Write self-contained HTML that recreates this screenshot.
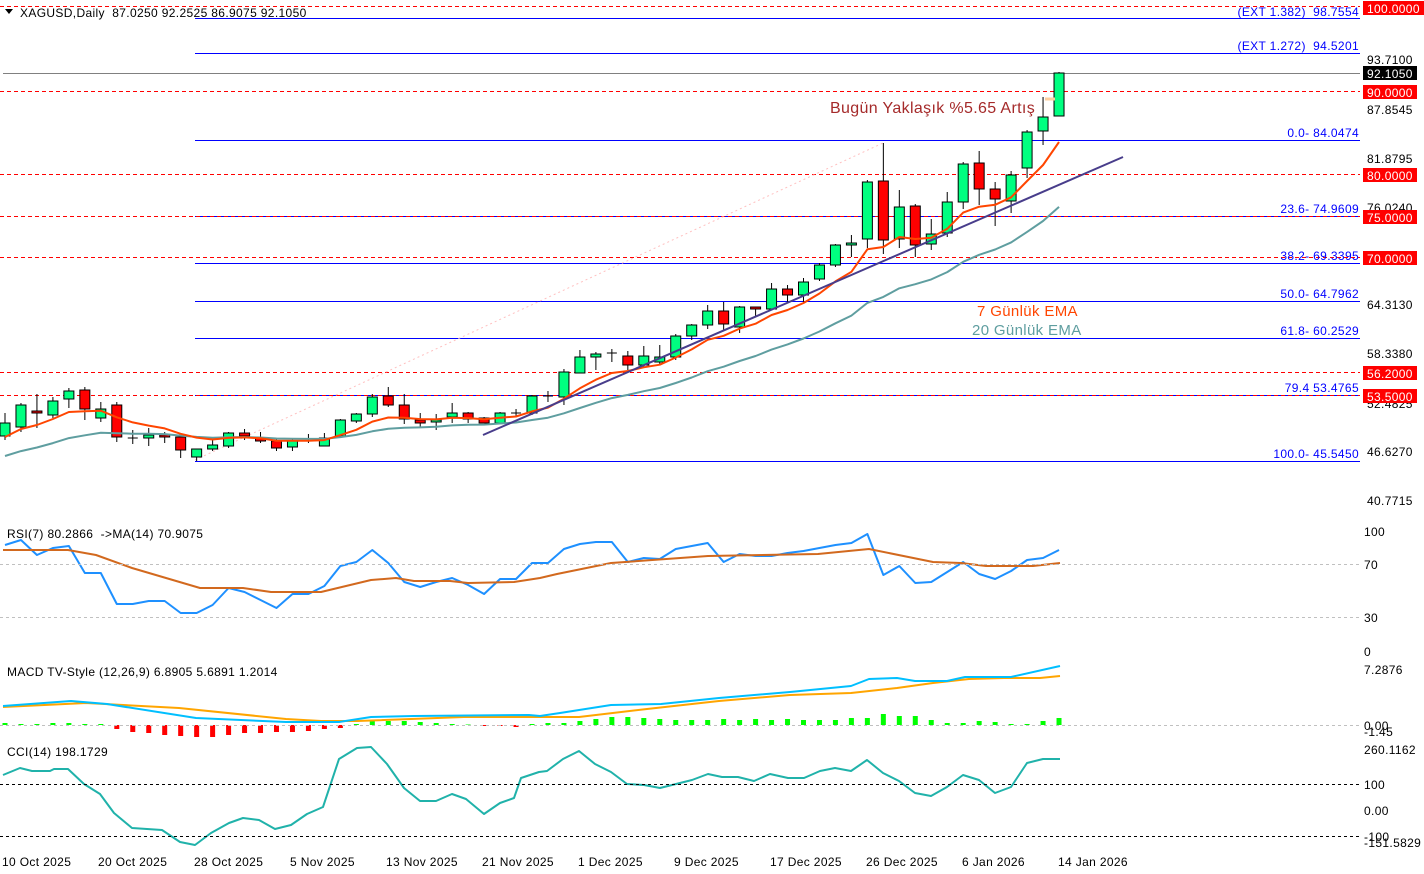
<!DOCTYPE html>
<html><head><meta charset="utf-8">
<style>
html,body{margin:0;padding:0;background:#fff;}
svg{display:block;font-family:"Liberation Sans",Tahoma,sans-serif;}
text{letter-spacing:0.35px;}
</style></head>
<body>
<svg id="c" width="1424" height="874" viewBox="0 0 1424 874" xmlns="http://www.w3.org/2000/svg">
<rect width="1424" height="874" fill="#fff"/>
<g stroke-width="1">
<line x1="0" y1="6.5" x2="1360" y2="6.5" stroke="#ff0000" stroke-dasharray="4,3"/>
<line x1="195" y1="18.5" x2="1360" y2="18.5" stroke="#0000ff"/>
<line x1="195" y1="53.5" x2="1360" y2="53.5" stroke="#0000ff"/>
<line x1="3" y1="73.5" x2="1360" y2="73.5" stroke="#808080"/>
<line x1="0" y1="91.5" x2="1360" y2="91.5" stroke="#ff0000" stroke-dasharray="4,3"/>
<line x1="195" y1="140.5" x2="1360" y2="140.5" stroke="#0000ff"/>
<line x1="0" y1="174.5" x2="1360" y2="174.5" stroke="#ff0000" stroke-dasharray="4,3"/>
<line x1="195" y1="216.5" x2="1360" y2="216.5" stroke="#0000ff"/>
<line x1="0" y1="216.5" x2="1360" y2="216.5" stroke="#ff0000" stroke-dasharray="4,3"/>
<line x1="0" y1="257.5" x2="1360" y2="257.5" stroke="#ff0000" stroke-dasharray="4,3"/>
<line x1="195" y1="263.5" x2="1360" y2="263.5" stroke="#0000ff"/>
<line x1="195" y1="301.5" x2="1360" y2="301.5" stroke="#0000ff"/>
<line x1="195" y1="338.5" x2="1360" y2="338.5" stroke="#0000ff"/>
<line x1="0" y1="372.5" x2="1360" y2="372.5" stroke="#ff0000" stroke-dasharray="4,3"/>
<line x1="195" y1="395.5" x2="1360" y2="395.5" stroke="#0000ff"/>
<line x1="0" y1="395.5" x2="1360" y2="395.5" stroke="#ff0000" stroke-dasharray="4,3"/>
<line x1="195" y1="461.5" x2="1360" y2="461.5" stroke="#0000ff"/>
<line x1="195" y1="460" x2="883" y2="143" stroke="#ffc0c0" stroke-dasharray="2,3" stroke-width="1"/>
</g>
<g id="candles"></g>
<g id="lines"></g>
<line x1="483" y1="435" x2="1123" y2="157" stroke="#483d8b" stroke-width="2"/>
<line x1="1045" y1="99" x2="1055" y2="99" stroke="#ffd0a0" stroke-width="3"/>

<g fill="#0000ff" font-size="12" text-anchor="end">
<text x="1359" y="16">(EXT 1.382)&#160;&#160;98.7554</text>
<text x="1359" y="50">(EXT 1.272)&#160;&#160;94.5201</text>
<text x="1359" y="137">0.0- 84.0474</text>
<text x="1359" y="213">23.6- 74.9609</text>
<text x="1359" y="260">38.2- 69.3395</text>
<text x="1359" y="298">50.0- 64.7962</text>
<text x="1359" y="335">61.8- 60.2529</text>
<text x="1359" y="392">79.4 53.4765</text>
<text x="1359" y="458">100.0- 45.5450</text>
</g>
<text x="830" y="113" font-size="16" fill="#a52a2a">Bugün Yaklaşık %5.65 Artış</text>
<text x="977" y="316" font-size="15" fill="#ff4500">7 Günlük EMA</text>
<text x="972" y="335" font-size="15" fill="#5f9ea0">20 Günlük EMA</text>

<polygon points="5,9 13,9 9,14" fill="#000"/>
<text x="20" y="17" font-size="12" fill="#000">XAGUSD,Daily&#160;&#160;87.0250 92.2525 86.9075 92.1050</text>

<g font-size="12" fill="#000">
<text x="1367" y="64">93.7100</text>
<text x="1367" y="114">87.8545</text>
<text x="1367" y="163">81.8795</text>
<text x="1367" y="212">76.0240</text>
<text x="1367" y="309">64.3130</text>
<text x="1367" y="358">58.3380</text>
<text x="1367" y="408">52.4825</text>
<text x="1367" y="456">46.6270</text>
<text x="1367" y="505">40.7715</text>
</g>
<g font-size="12" fill="#fff">
<rect x="1363" y="1" width="61" height="14" fill="#ff0000"/><text x="1367" y="13">100.0000</text>
<rect x="1363" y="66" width="54" height="14" fill="#000"/><text x="1367" y="78">92.1050</text>
<rect x="1363" y="85" width="54" height="14" fill="#ff0000"/><text x="1367" y="97">90.0000</text>
<rect x="1363" y="168" width="54" height="14" fill="#ff0000"/><text x="1367" y="180">80.0000</text>
<rect x="1363" y="210" width="54" height="14" fill="#ff0000"/><text x="1367" y="222">75.0000</text>
<rect x="1363" y="251" width="54" height="14" fill="#ff0000"/><text x="1367" y="263">70.0000</text>
<rect x="1363" y="366" width="54" height="14" fill="#ff0000"/><text x="1367" y="378">56.2000</text>
<rect x="1363" y="389" width="54" height="14" fill="#ff0000"/><text x="1367" y="401">53.5000</text>
</g>

<line x1="0" y1="564.5" x2="1360" y2="564.5" stroke="#c0c0c0" stroke-dasharray="3,3"/>
<line x1="0" y1="617.5" x2="1360" y2="617.5" stroke="#c0c0c0" stroke-dasharray="3,3"/>
<text x="7" y="538" font-size="12">RSI(7) 80.2866&#160;&#160;-&gt;MA(14) 70.9075</text>
<g font-size="12"><text x="1364" y="536">100</text><text x="1364" y="569">70</text><text x="1364" y="622">30</text><text x="1364" y="656">0</text></g>

<line x1="0" y1="725.5" x2="1360" y2="725.5" stroke="#c0c0c0" stroke-dasharray="3,3"/>
<text x="7" y="676" font-size="12">MACD TV-Style (12,26,9) 6.8905 5.6891 1.2014</text>
<g font-size="12"><text x="1364" y="730">0.00</text><text x="1364" y="674">7.2876</text><text x="1364" y="736">-1.45</text></g>

<line x1="0" y1="784.5" x2="1360" y2="784.5" stroke="#000" stroke-dasharray="3,3"/>
<line x1="0" y1="836.5" x2="1360" y2="836.5" stroke="#000" stroke-dasharray="3,3"/>
<text x="7" y="756" font-size="12">CCI(14) 198.1729</text>
<g font-size="12"><text x="1364" y="754">260.1162</text><text x="1364" y="789">100</text><text x="1364" y="815">0.00</text><text x="1364" y="841">-100</text><text x="1364" y="847">-151.5829</text></g>

<g font-size="12" fill="#000">
<text x="2" y="866">10 Oct 2025</text><text x="98" y="866">20 Oct 2025</text><text x="194" y="866">28 Oct 2025</text>
<text x="290" y="866">5 Nov 2025</text><text x="386" y="866">13 Nov 2025</text><text x="482" y="866">21 Nov 2025</text>
<text x="578" y="866">1 Dec 2025</text><text x="674" y="866">9 Dec 2025</text><text x="770" y="866">17 Dec 2025</text>
<text x="866" y="866">26 Dec 2025</text><text x="962" y="866">6 Jan 2026</text><text x="1058" y="866">14 Jan 2026</text>
</g>
</svg>
<script>
var D=[
['g',423,436,413,440],['g',405,427,403,432],['r',411,413,394,428],['g',401,415,397,418],['g',391,399,388,408],
['r',390,409,387,420],['g',409,418,402,422],['r',405,437,402,442],['x',438,438,430,444],['g',435,438,428,446],
['r',435,437,432,443],['r',437,450,436,458],['g',449,457,449,461],['g',445,449,440,451],['g',433,446,432,448],
['r',433,436,429,440],['r',438,441,432,443],['r',441,448,438,451],['g',441,447,438,451],['x',441,441,434,443],
['g',438,446,433,446],['g',420,436,419,438],['g',414,421,413,423],['g',397,414,394,417],['r',396,405,387,407],
['r',405,419,394,424],['r',420,423,413,427],['g',420,422,414,430],['g',413,417,403,423],['r',413,419,412,423],
['r',418,423,417,423],['g',413,423,412,424],['x',413,413,409,417],['g',396,413,395,415],['x',396,396,391,402],
['g',372,397,369,405],['g',357,373,350,373],['g',354,357,352,370],['x',353,353,349,362],['r',356,365,351,370],
['g',356,365,346,368],['g',357,362,345,364],['g',336,357,334,360],['g',325,336,324,340],['g',311,325,305,329],
['r',311,324,302,330],['g',307,327,306,333],['r',307,309,307,316],['g',289,309,283,310],['r',289,295,285,302],
['g',282,295,278,302],['g',265,279,263,281],['g',245,265,244,267],['g',243,245,235,257],['g',182,239,180,248],
['r',181,240,143,254],['g',207,239,190,248],['r',206,245,204,257],['g',234,244,219,250],['g',202,233,192,237],
['g',164,202,162,209],['r',163,189,151,205],['r',189,199,182,226],['g',175,201,171,213],['g',132,168,130,178],
['g',117,131,97,145],['g',73,116,72,116]];
function X(i){return 5+15.97*i;}
var s='';
for(var i=0;i<D.length;i++){var d=D[i],x=X(i);
 s+='<line x1="'+x+'" y1="'+d[3]+'" x2="'+x+'" y2="'+d[4]+'" stroke="#000" stroke-width="1"/>';
 if(d[0]=='x'){s+='<line x1="'+(x-5)+'" y1="'+d[1]+'" x2="'+(x+5)+'" y2="'+d[1]+'" stroke="#000" stroke-width="1"/>';}
 else{var h=Math.max(d[2]-d[1],2);s+='<rect x="'+(x-5)+'" y="'+d[1]+'" width="10" height="'+h+'" fill="'+(d[0]=='g'?'#00ff80':'#ff0000')+'" stroke="#000" stroke-width="1"/>';}
}
document.getElementById('candles').innerHTML=s;
function pl(pts,col,w){return '<polyline fill="none" stroke="'+col+'" stroke-width="'+w+'" stroke-linejoin="round" points="'+pts.map(function(p){return p[0]+','+p[1]}).join(' ')+'"/>';}
var e7=437,e20=456,a7=2/8,a20=2/21,P7=[],P20=[];
for(var i=0;i<D.length;i++){var d=D[i],c=(d[0]=='r')?d[2]:d[1];
 if(i>0){e7=e7+a7*(c-e7);e20=e20+a20*(c-e20);}P7.push([X(i),e7.toFixed(1)]);P20.push([X(i),e20.toFixed(1)]);}
var L='';
L+=pl(P20,'#5f9ea0',2);L+=pl(P7,'#ff4500',2);
var rsi=[545,540,555,548,546,573,573,604,604,601,601,613,613,605,588,592,600,608,594,594,586,566,562,550,563,582,587,582,578,585,594,579,579,563,563,549,544,542,542,562,558,559,549,546,543,562,554,556,556,553,551,548,545,543,534,575,566,583,582,572,562,574,579,571,560,558,550];
L+=pl(rsi.map(function(v,i){return[X(i),v]}),'#1e90ff',2);
L+=pl([[3,550],[68,550],[96,555],[132,568],[200,588],[243,588],[271,592],[321,592],[371,580],[396,578],[414,581],[450,581],[468,583],[514,582],[540,578],[557,574],[611,563],[708,556],[818,554],[869,549],[933,562],[961,563],[986,566],[1033,566],[1060,563]],'#d2691e',2);
var hb=[2,1,1,2,2,1,1,-4,-7,-8,-10,-11,-12,-12,-10,-8,-8,-7,-7,-6,-4,-3,1,4,4,4,3,2,1,0.5,-1,-1,-2,1,2,
2,4,6,8,8,7,6,5,5,5,6,5,6,5,6,5,5,5,7,7,11,9,9,5,2,2,4,3,1,1,4,7,11];
var hs='';
for(var i=0;i<D.length;i++){var v=hb[i];if(v===undefined)continue;var x=X(i);
 if(v>=0)hs+='<rect x="'+(x-2.5)+'" y="'+(725-v)+'" width="5" height="'+v+'" fill="#00ff00"/>';
 else hs+='<rect x="'+(x-2.5)+'" y="725" width="5" height="'+(-v)+'" fill="#ff0000"/>';}
L+=hs;
L+=pl([[3,707],[86,703],[179,708],[286,719],[321,721],[357,721],[464,717],[540,717],[579,717],[647,709],[719,701],[790,695],[851,693],[897,688],[933,683],[969,679],[1004,678],[1040,678],[1060,676]],'#ffa500',2);
L+=pl([[3,706],[71,701],[107,704],[196,718],[286,722],[339,722],[371,717],[414,716],[529,715],[540,716],[560,713],[611,705],[661,704],[719,698],[790,692],[851,686],[869,679],[897,678],[915,681],[947,681],[965,677],[990,677],[1011,677],[1060,666]],'#00bfff',2);
L+=pl([[3,775],[20,768],[32,771],[50,771],[54,769],[68,769],[84,784],[100,794],[114,813],[132,828],[162,830],[180,842],[195,845],[211,833],[229,823],[243,818],[259,820],[275,829],[291,825],[307,814],[323,807],[339,759],[357,748],[371,747],[387,764],[404,788],[420,801],[436,801],[452,794],[466,799],[484,814],[500,803],[514,798],[521,778],[539,772],[547,771],[563,759],[579,751],[595,764],[611,772],[627,784],[644,785],[660,788],[676,784],[692,780],[708,774],[722,777],[738,777],[754,781],[770,774],[788,778],[804,778],[820,771],[835,768],[851,771],[867,760],[883,773],[899,781],[915,793],[931,796],[947,787],[963,775],[979,780],[995,793],[1011,787],[1027,763],[1043,759],[1060,759]],'#20b2aa',2);
document.getElementById('lines').innerHTML=L;
</script>
</body></html>
